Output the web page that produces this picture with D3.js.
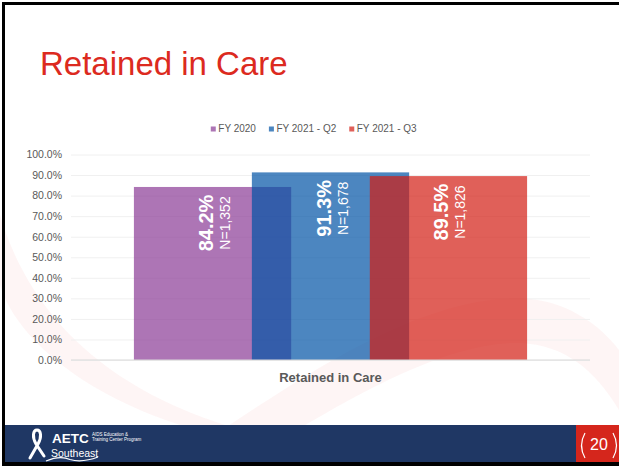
<!DOCTYPE html>
<html>
<head>
<meta charset="utf-8">
<script src="https://cdn.jsdelivr.net/npm/d3@7"></script>
<style>
  body { margin: 0; background: #fff; }
  svg { display: block; font-family: "Liberation Sans", Arial, sans-serif; }
</style>
</head>
<body>
<svg width="619" height="466"></svg>
<script>
// chart data
const categories = ['Retained in Care']
const series = ['FY 2020', 'FY 2021 - Q2', 'FY 2021 - Q3']
const values = [84.2, 91.3, 89.5]
const counts = ['1,352', '1,678', '1,826']
const yTicks = [0, 10, 20, 30, 40, 50, 60, 70, 80, 90, 100]

// base colours, drawn at 0.7 opacity so the overlaps darken like the slide
const colors = ['rgb(138,58,149)', 'rgb(0,82,165)', 'rgb(211,28,19)']

let Width = 619
let Height = 466
let svg = d3.select('svg').attr('width', Width).attr('height', Height)

// faint ribbon swoosh in the slide background
let bg = svg.append('g').attr('fill', 'rgb(235,60,50)').attr('fill-opacity', 0.05)
bg.append('path').attr('d', 'M0,215 C25,300 90,385 235,428 L190,428 C80,395 15,335 0,285 Z')
bg.append('path').attr('d', 'M225,428 C320,365 420,300 515,298 C565,298 600,325 619,350 L619,410 C595,370 565,345 520,343 C450,342 365,390 300,428 Z')

// title
svg.append('text')
  .attr('x', 40).attr('y', 75)
  .attr('font-size', 33)
  .attr('fill', '#dc2a20')
  .text('Retained in Care')

// scales
let y = d3.scaleLinear().domain([0, 100]).range([360, 154.5])
let x0 = d3.scaleBand().domain(categories).range([71, 590]).paddingInner(0).paddingOuter(0.16)
let barW = x0.bandwidth() / 2.5
let x1 = d3.scalePoint().domain(series).range([0, x0.bandwidth() - barW])

// gridlines + y labels
let yAxis = d3.axisLeft(y).tickValues(yTicks).tickSize(-(590 - 71)).tickPadding(9)
  .tickFormat(d => d.toFixed(1) + '%')
let ya = svg.append('g').attr('transform', 'translate(71,0)').call(yAxis)
ya.select('.domain').remove()
ya.selectAll('.tick line').attr('stroke', '#f0f0f0')
ya.selectAll('.tick text').attr('fill', '#595959').attr('font-size', 10.5)
  .attr('font-family', '"Liberation Sans", Arial, sans-serif')

// bars
let rows = series.map((s, i) => ({ cat: categories[0], s: s, v: values[i], n: counts[i], c: colors[i] }))
svg.append('g').selectAll('rect').data(rows).enter().append('rect')
  .attr('x', d => x0(d.cat) + x1(d.s))
  .attr('y', d => y(d.v))
  .attr('width', barW)
  .attr('height', d => y(0) - y(d.v))
  .attr('fill', d => d.c)
  .attr('fill-opacity', 0.7)

// x axis line
svg.append('line').attr('x1', 71).attr('x2', 590).attr('y1', y(0)).attr('y2', y(0))
  .attr('stroke', '#d9d9d9').attr('stroke-width', 1)

// data labels, rotated inside the bar tops
let lab = svg.append('g').selectAll('g').data(rows).enter().append('g')
  .attr('transform', d => 'translate(' + (x0(d.cat) + x1(d.s) + barW / 2) + ',' + (y(d.v) + 36) + ') rotate(-90)')
lab.append('text')
  .attr('text-anchor', 'middle')
  .attr('font-size', 20).attr('font-weight', 'bold').attr('fill', '#fff')
  .text(d => d.v.toFixed(1) + '%')
lab.append('text')
  .attr('y', 17)
  .attr('text-anchor', 'middle')
  .attr('font-size', 14).attr('fill', '#fff')
  .text(d => 'N=' + d.n)

// category label
svg.append('text')
  .attr('x', x0(categories[0]) + x0.bandwidth() / 2).attr('y', 382)
  .attr('text-anchor', 'middle')
  .attr('font-size', 13).attr('font-weight', 'bold').attr('fill', '#595959')
  .text(categories[0])

// legend, centred on the slide
let leg = svg.append('g')
let lx = 0
series.forEach(function (s, i) {
  leg.append('rect').attr('x', lx).attr('y', 126.5).attr('width', 5).attr('height', 5)
    .attr('fill', colors[i]).attr('fill-opacity', 0.7)
  let t = leg.append('text').attr('x', lx + 7.5).attr('y', 132)
    .attr('font-size', 10).attr('fill', '#595959').text(s)
  lx += 7.5 + t.node().getComputedTextLength() + 13
})
let legW = lx - 13
leg.attr('transform', 'translate(' + (313.7 - legW / 2) + ',0)')

// footer band
svg.append('rect').attr('x', 5).attr('y', 425).attr('width', 614).attr('height', 37).attr('fill', '#1f3764')
svg.append('rect').attr('x', 576).attr('y', 425).attr('width', 43).attr('height', 37).attr('fill', '#d5261c')
svg.append('text').attr('x', 599).attr('y', 450).attr('text-anchor', 'middle')
  .attr('font-size', 16).attr('fill', '#fff').text('20')
svg.append('path').attr('d', 'M585,433 Q578,445.5 585,458').attr('stroke', '#fff').attr('fill', 'none').attr('stroke-width', 1.2)
svg.append('path').attr('d', 'M613,433 Q620,445.5 613,458').attr('stroke', '#fff').attr('fill', 'none').attr('stroke-width', 1.2)

// logo
let logo = svg.append('g').attr('fill', '#fff')
logo.append('path')
  .attr('d', 'M30,458 L38,444 C42,437 41,430 37,430 C33,430 32,437 36,444 L44,456')
  .attr('fill', 'none').attr('stroke', '#fff').attr('stroke-width', 3).attr('stroke-linecap', 'round')
logo.append('path')
  .attr('d', 'M46,461 Q60,455 70,459.5 Q82,463 98,457')
  .attr('fill', 'none').attr('stroke', '#fff').attr('stroke-width', 1.3)
logo.append('text').attr('x', 52).attr('y', 443).attr('font-size', 13.5).attr('font-weight', 'bold').text('AETC')
logo.append('text').attr('x', 92).attr('y', 435.5).attr('font-size', 4.5).text('AIDS Education &')
logo.append('text').attr('x', 92).attr('y', 440.5).attr('font-size', 4.5).text('Training Center Program')
logo.append('text').attr('x', 51).attr('y', 457).attr('font-size', 10.5).text('Southeast')

// slide frame
svg.append('rect').attr('x', 2).attr('y', 2).attr('width', 617).attr('height', 3).attr('fill', '#000')
svg.append('rect').attr('x', 2).attr('y', 2).attr('width', 3).attr('height', 464).attr('fill', '#000')
svg.append('rect').attr('x', 2).attr('y', 462).attr('width', 617).attr('height', 4).attr('fill', '#000')
</script>
</body>
</html>
